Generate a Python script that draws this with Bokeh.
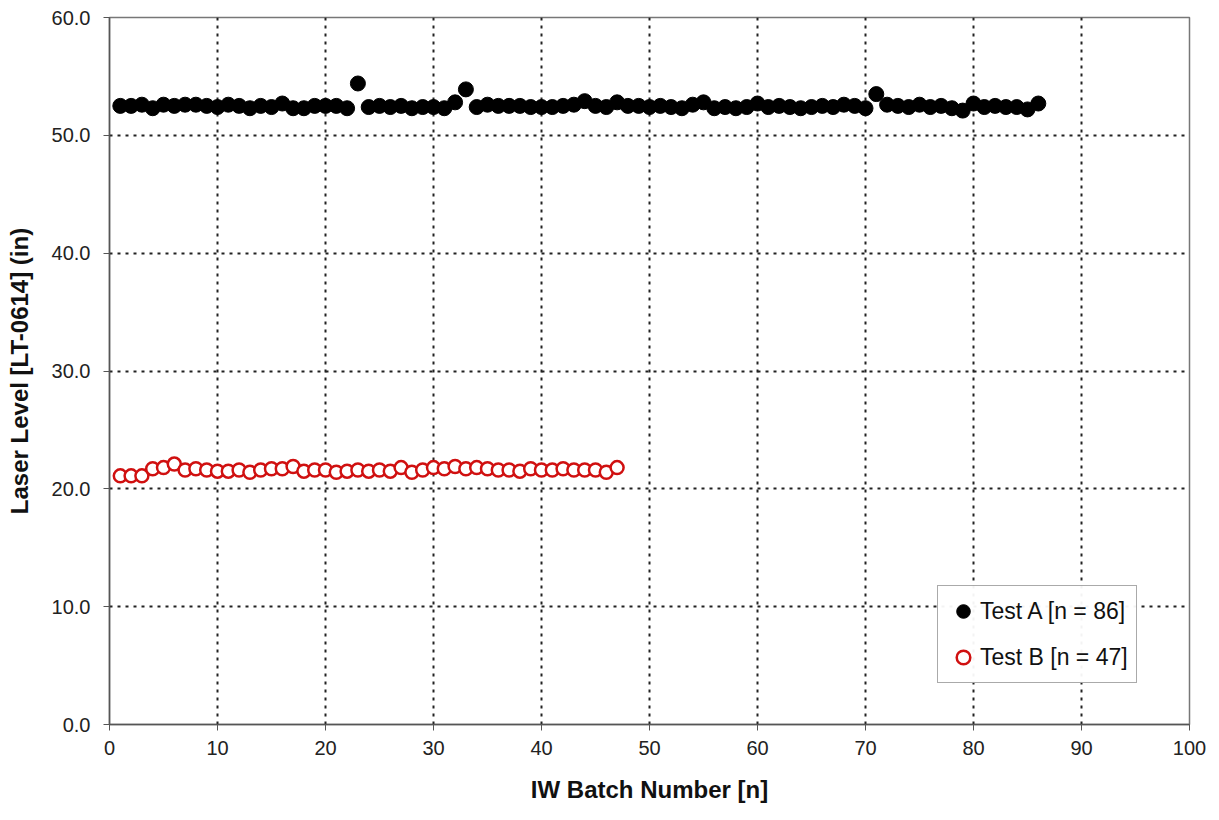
from bokeh.plotting import figure
from bokeh.models import Legend, LegendItem, SingleIntervalTicker, NumeralTickFormatter, ColumnDataSource
from bokeh.embed import file_html
from bokeh.resources import INLINE

batch_a = list(range(1, 87))
level_a = [52.5, 52.5, 52.6, 52.3, 52.6, 52.5, 52.6, 52.6, 52.5, 52.4,
           52.6, 52.5, 52.3, 52.5, 52.4, 52.7, 52.3, 52.3, 52.5, 52.5,
           52.5, 52.3, 54.4, 52.4, 52.5, 52.4, 52.5, 52.3, 52.4, 52.4,
           52.3, 52.8, 53.9, 52.4, 52.6, 52.5, 52.5, 52.5, 52.4, 52.4,
           52.4, 52.5, 52.6, 52.9, 52.5, 52.4, 52.8, 52.5, 52.5, 52.4,
           52.5, 52.4, 52.3, 52.6, 52.8, 52.3, 52.4, 52.3, 52.4, 52.7,
           52.4, 52.5, 52.4, 52.3, 52.4, 52.5, 52.4, 52.6, 52.5, 52.3,
           53.5, 52.6, 52.5, 52.4, 52.6, 52.4, 52.5, 52.3, 52.1, 52.7,
           52.4, 52.5, 52.4, 52.4, 52.2, 52.7]
batch_b = list(range(1, 48))
level_b = [21.1, 21.1, 21.1, 21.7, 21.8, 22.1, 21.6, 21.7, 21.6, 21.5,
           21.5, 21.6, 21.4, 21.6, 21.7, 21.7, 21.9, 21.5, 21.6, 21.6,
           21.4, 21.5, 21.6, 21.5, 21.6, 21.5, 21.8, 21.4, 21.6, 21.8,
           21.7, 21.9, 21.7, 21.8, 21.7, 21.6, 21.6, 21.5, 21.7, 21.6,
           21.6, 21.7, 21.6, 21.6, 21.6, 21.4, 21.8]
label_a = "Test A [n = 86]"
label_b = "Test B [n = 47]"
x_title = "IW Batch Number [n]"
y_title = "Laser Level [LT-0614] (in)"

FONT = "Liberation Sans"

p = figure(width=1211, height=812, output_backend="svg", toolbar_location=None,
           x_range=(0, 100), y_range=(0, 60),
           min_border_left=109, min_border_top=17, min_border_right=22, min_border_bottom=88)
p.outline_line_color = "#777777"
p.outline_line_width = 1.5

src_a = ColumnDataSource(dict(x=batch_a, y=level_a))
src_b = ColumnDataSource(dict(x=batch_b, y=level_b))
ra = p.scatter("x", "y", source=src_a, size=15, fill_color="black", line_color="black")
rb = p.scatter("x", "y", source=src_b, size=13, fill_color="white", line_color="#d01010", line_width=2.5)

for ax in (p.xaxis[0], p.yaxis[0]):
    ax.ticker = SingleIntervalTicker(interval=10)
    ax.minor_tick_line_color = None
    ax.major_tick_in = 0
    ax.major_tick_out = 6
    ax.axis_line_color = "#555555"
    ax.axis_line_width = 1.5
    ax.major_tick_line_color = "#555555"
    ax.major_label_text_font = FONT
    ax.major_label_text_font_size = "20px"
    ax.major_label_text_color = "#222222"
    ax.axis_label_text_font = FONT
    ax.axis_label_text_font_style = "bold"
    ax.axis_label_text_font_size = "24px"
    ax.axis_label_text_color = "#111111"

p.yaxis[0].formatter = NumeralTickFormatter(format="0.0")
p.yaxis[0].major_label_standoff = 13
p.xaxis[0].major_label_standoff = 10
p.xaxis.axis_label = x_title
p.yaxis.axis_label = y_title
p.xaxis.axis_label_standoff = 18
p.yaxis.axis_label_standoff = 16

for g in (p.xgrid[0], p.ygrid[0]):
    g.ticker = SingleIntervalTicker(interval=10)
    g.grid_line_color = "#222222"
    g.grid_line_width = 2
    g.grid_line_dash = "3 5"

legend = Legend(items=[LegendItem(label=label_a, renderers=[ra]),
                       LegendItem(label=label_b, renderers=[rb])],
                location=(828, 41))
legend.border_line_color = "#555555"
legend.border_line_width = 1.5
legend.label_text_font = FONT
legend.label_text_font_size = "23px"
legend.label_text_color = "#111111"
legend.label_height = 26
legend.glyph_width = 34
legend.glyph_height = 34
legend.spacing = 12
legend.padding = 8
legend.margin = 0
legend.label_standoff = 0
p.add_layout(legend)

open("out.html", "w").write(file_html(p, INLINE))
